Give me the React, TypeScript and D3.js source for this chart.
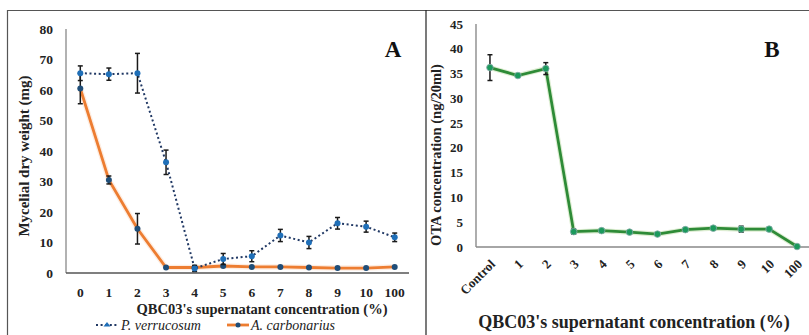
import * as d3 from "d3"

// Panel A: mycelial dry weight (mg)
const catsA = ["0", "1", "2", "3", "4", "5", "6", "7", "8", "9", "10", "100"]
const verrucosum = [65.5, 65.2, 65.5, 36.3, 1.5, 4.6, 5.5, 12.3, 10.0, 16.3, 15.2, 11.7]
const verrucosumErr = [2.4, 2.0, 6.5, 4.0, 1.0, 1.8, 1.8, 2.0, 2.0, 1.9, 1.8, 1.4]
const carbonarius = [60.5, 30.5, 14.5, 1.8, 1.8, 2.3, 2.0, 2.0, 1.8, 1.6, 1.6, 2.0]
const carbonariusErr = [5.0, 1.3, 5.0, 0, 0, 0, 0, 0, 0, 0, 0, 0]
const ticksA = [0, 10, 20, 30, 40, 50, 60, 70, 80]

// Panel B: OTA concentration (ng/20ml)
const catsB = ["Control", "1", "2", "3", "4", "5", "6", "7", "8", "9", "10", "100"]
const ota = [36.2, 34.6, 36.0, 3.1, 3.3, 3.0, 2.6, 3.5, 3.8, 3.6, 3.6, 0.1]
const otaErr = [2.6, 0, 1.2, 0.5, 0, 0, 0, 0, 0, 0.6, 0, 0]
const ticksB = [0, 5, 10, 15, 20, 25, 30, 35, 40, 45]

const font = "Liberation Serif, DejaVu Serif, serif"

function ErrorBars({ x, y, vals, errs, cats }: any) {
  return (
    <g stroke="#1a1a1a" strokeWidth={1.5}>
      {vals.map((v: number, i: number) => {
        const e = errs[i]
        if (!e) return null
        const cx = x(cats[i]) + x.bandwidth() / 2
        return (
          <g key={i}>
            <line x1={cx} x2={cx} y1={y(v - e)} y2={y(v + e)} />
            <line x1={cx - 2.5} x2={cx + 2.5} y1={y(v - e)} y2={y(v - e)} />
            <line x1={cx - 2.5} x2={cx + 2.5} y1={y(v + e)} y2={y(v + e)} />
          </g>
        )
      })}
    </g>
  )
}

function PanelA() {
  const x = d3.scaleBand().domain(catsA).range([66, 409])
  const y = d3.scaleLinear().domain([0, 80]).range([273, 29])
  const cx = (c: string) => (x(c) as number) + x.bandwidth() / 2
  const line = d3
    .line<number>()
    .x((_, i) => cx(catsA[i]))
    .y((d) => y(d))
  return (
    <g style={{ fontFamily: font }}>
      {/* y axis */}
      <line x1={66} x2={66} y1={29} y2={273} stroke="#999" strokeWidth={1.5} />
      {ticksA.map((t) => (
        <text key={t} x={53} y={y(t)} dy="0.35em" textAnchor="end" fontSize={13.5} fontWeight="bold" fill="#222">
          {t}
        </text>
      ))}
      {/* x axis */}
      <line x1={66} x2={409} y1={273} y2={273} stroke="#555" strokeWidth={1.5} />
      {catsA.map((c) => (
        <text key={c} x={cx(c)} y={297} textAnchor="middle" fontSize={13.5} fontWeight="bold" fill="#222">
          {c}
        </text>
      ))}
      <text x={262} y={314} textAnchor="middle" fontSize={14.5} fontWeight="bold" fill="#222">
        QBC03's supernatant concentration (%)
      </text>
      <text transform="translate(29,156) rotate(-90)" textAnchor="middle" fontSize={15} fontWeight="bold" fill="#222">
        Mycelial dry weight (mg)
      </text>
      <text x={393} y={57} textAnchor="middle" fontSize={23} fontWeight="bold" fill="#111">
        A
      </text>

      {/* A. carbonarius */}
      <path d={line(carbonarius) ?? ""} fill="none" stroke="#f8cbad" strokeWidth={5.5} opacity={0.35} />
      <path d={line(carbonarius) ?? ""} fill="none" stroke="#ed7d31" strokeWidth={2.8} />
      <ErrorBars x={x} y={y} vals={carbonarius} errs={carbonariusErr} cats={catsA} />
      {carbonarius.map((v, i) => (
        <circle key={i} cx={cx(catsA[i])} cy={y(v)} r={3} fill="#1f4e79" />
      ))}

      {/* P. verrucosum */}
      <path d={line(verrucosum) ?? ""} fill="none" stroke="#203864" strokeWidth={2} strokeDasharray="2 2.6" />
      <ErrorBars x={x} y={y} vals={verrucosum} errs={verrucosumErr} cats={catsA} />
      {verrucosum.map((v, i) => (
        <circle key={i} cx={cx(catsA[i])} cy={y(v)} r={3} fill="#1f6fb8" />
      ))}

      {/* legend */}
      <line x1={96} x2={119} y1={325} y2={325} stroke="#203864" strokeWidth={2} strokeDasharray="2 2.6" />
      <path d="M103.5,326.5 L107,322 L110.5,326.5 Z" fill="#1f6fb8" />
      <text x={121} y={329.5} fontSize={14} fontStyle="italic" fill="#222">
        P. verrucosum
      </text>
      <line x1={227} x2={249} y1={325} y2={325} stroke="#ed7d31" strokeWidth={2.8} />
      <circle cx={238} cy={325} r={2.5} fill="#1f4e79" />
      <text x={251} y={329.5} fontSize={14} fontStyle="italic" fill="#222">
        A. carbonarius
      </text>
    </g>
  )
}

function PanelB() {
  const x = d3.scaleBand().domain(catsB).range([476, 811])
  const y = d3.scaleLinear().domain([0, 45]).range([247, 24])
  const cx = (c: string) => (x(c) as number) + x.bandwidth() / 2
  const line = d3
    .line<number>()
    .x((_, i) => cx(catsB[i]))
    .y((d) => y(d))
  return (
    <g style={{ fontFamily: font }}>
      <line x1={476} x2={476} y1={24} y2={247} stroke="#777" strokeWidth={1.2} />
      {ticksB.map((t) => (
        <text key={t} x={463} y={y(t)} dy="0.35em" textAnchor="end" fontSize={13} fontWeight="bold" fill="#222">
          {t}
        </text>
      ))}
      <line x1={476} x2={809} y1={247} y2={247} stroke="#888" strokeWidth={1.5} />
      {catsB.map((c) => (
        <text
          key={c}
          transform={`translate(${cx(c) + 6},265) rotate(-45)`}
          textAnchor="end"
          fontSize={13}
          fontWeight="bold"
          fill="#222"
        >
          {c}
        </text>
      ))}
      <text x={634} y={328} textAnchor="middle" fontSize={18} fontWeight="bold" fill="#222">
        QBC03's supernatant concentration (%)
      </text>
      <text transform="translate(441,155) rotate(-90)" textAnchor="middle" fontSize={14.5} fontWeight="bold" fill="#222">
        OTA concentration (ng/20ml)
      </text>
      <text x={772} y={57} textAnchor="middle" fontSize={23} fontWeight="bold" fill="#111">
        B
      </text>

      <path d={line(ota) ?? ""} fill="none" stroke="#a9d18e" strokeWidth={5} opacity={0.4} />
      <path d={line(ota) ?? ""} fill="none" stroke="#2e8b37" strokeWidth={2.8} />
      <ErrorBars x={x} y={y} vals={ota} errs={otaErr} cats={catsB} />
      {ota.map((v, i) => (
        <circle key={i} cx={cx(catsB[i])} cy={y(v)} r={3.3} fill="#1b9a5c" stroke="#8aa" strokeWidth={0.8} />
      ))}
    </g>
  )
}

export default function App() {
  return (
    <svg
      width={809}
      height={335}
      style={{ position: "absolute", left: 0, top: 0, background: "#fff" }}
    >
      <rect width={809} height={335} fill="#fff" />
      {/* frames */}
      <line x1={7} x2={809} y1={10.5} y2={10.5} stroke="#555" strokeWidth={1.2} />
      <line x1={7.5} x2={7.5} y1={10} y2={335} stroke="#555" strokeWidth={1.2} />
      <line x1={426} x2={426} y1={10} y2={335} stroke="#222" strokeWidth={1.2} />
      <PanelA />
      <PanelB />
    </svg>
  )
}
